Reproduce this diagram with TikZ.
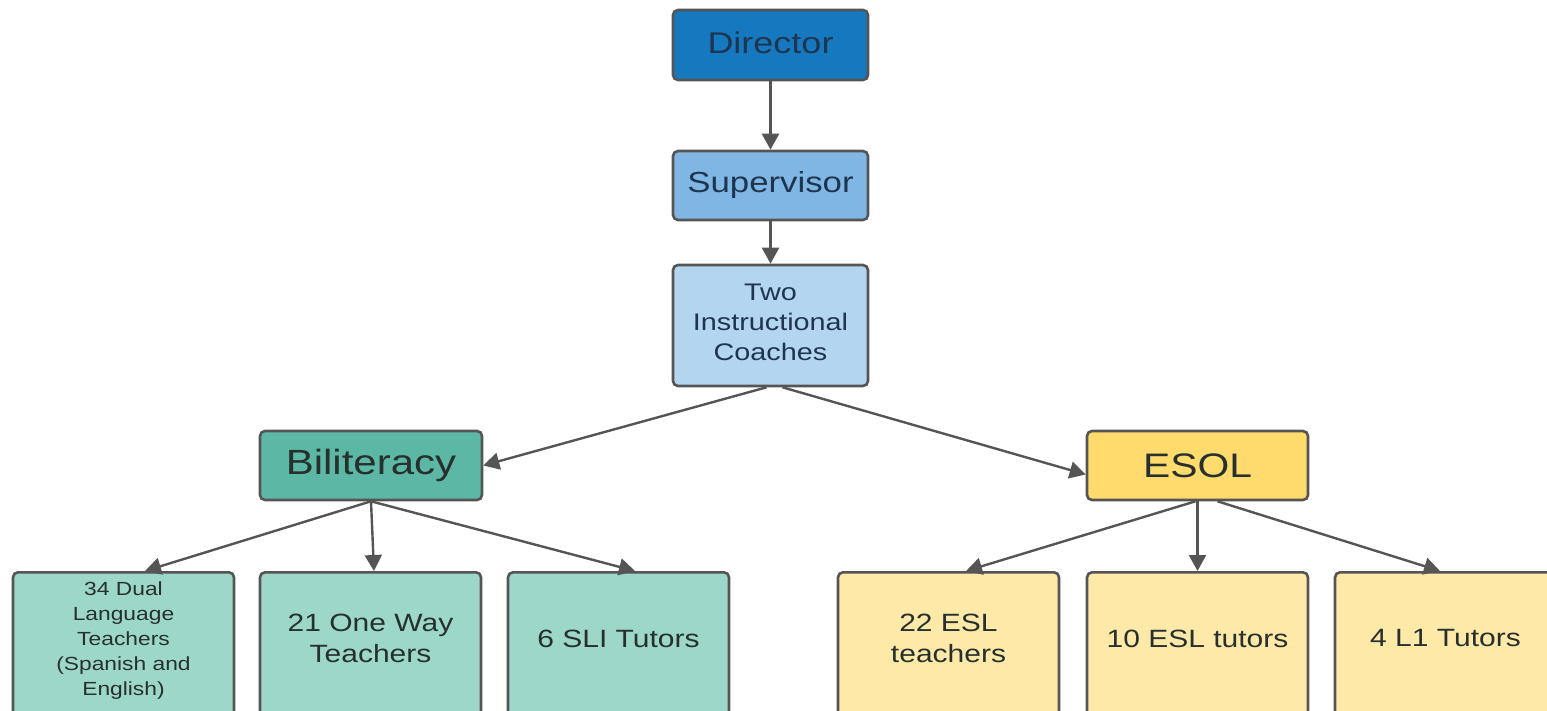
\documentclass[tikz,border=0pt]{standalone}
\usepackage{fontspec}
\setmainfont[FakeStretch=1.2]{Liberation Sans}
\usetikzlibrary{arrows.meta}
\definecolor{dirblue}{HTML}{1679C0}
\definecolor{supblue}{HTML}{7FB6E4}
\definecolor{coachblue}{HTML}{B4D5F0}
\definecolor{teal1}{HTML}{5CB8A4}
\definecolor{teal2}{HTML}{9DD7CA}
\definecolor{yel1}{HTML}{FFDA6C}
\definecolor{yel2}{HTML}{FFE9A8}
\definecolor{edge}{HTML}{555555}
\definecolor{txt}{HTML}{26302E}
\definecolor{navytxt}{HTML}{1E3550}
\tikzset{
  box/.style={draw=edge, line width=2.6pt, rounded corners=5pt, align=center,
    text=txt, inner sep=2pt, minimum width=221pt},
  leaf/.style={box, minimum height=145pt, anchor=north, text depth=13pt},
  conn/.style={draw=edge, line width=2.4pt, -{Triangle[length=16pt,width=17pt]}},
}
\begin{document}
\begin{tikzpicture}[x=1pt,y=-1pt]
\useasboundingbox (0,0) rectangle (1547,711);
\clip (0,0) rectangle (1547,711);
\node[box, fill=dirblue, minimum width=195pt, minimum height=70pt, text=navytxt,
  text depth=5pt, font=\fontsize{30}{35}\selectfont] (dir) at (770.5,45) {Director};
\node[box, fill=supblue, minimum width=195pt, minimum height=69pt, text=navytxt,
  font=\fontsize{29}{34}\selectfont] (sup) at (770.5,185.5) {Supervisor};
\node[box, fill=coachblue, minimum width=195pt, minimum height=121pt, text=navytxt,
  text depth=6pt, font=\fontsize{24}{30}\selectfont] (coach) at (770.5,325.5) {Two\\Instructional\\Coaches};
\node[box, fill=teal1, minimum width=222pt, minimum height=69pt,
  font=\fontsize{35}{40}\selectfont] (bil) at (371,465.5) {Biliteracy};
\node[box, fill=yel1, minimum width=221pt, minimum height=69pt,
  font=\fontsize{34}{40}\selectfont] (esol) at (1197.5,465.5) {ESOL};

\node[leaf, fill=teal2, font=\fontsize{19}{25}\selectfont] (dual) at (123.5,571)
  {34 Dual\\Language\\Teachers\\(Spanish and\\English)};
\node[leaf, fill=teal2, font=\fontsize{25}{31}\selectfont] (oneway) at (370.5,571)
  {21 One Way\\Teachers};
\node[leaf, fill=teal2, font=\fontsize{25}{31}\selectfont] (sli) at (618.5,571)
  {6 SLI Tutors};
\node[leaf, fill=yel2, font=\fontsize{25}{31}\selectfont] (esl) at (948.5,571)
  {22 ESL\\teachers};
\node[leaf, fill=yel2, font=\fontsize{25}{31}\selectfont] (esltut) at (1197.5,571)
  {10 ESL tutors};
\node[leaf, fill=yel2, font=\fontsize{25}{31}\selectfont] (l1) at (1445.5,571)
  {4 L1 Tutors};

\draw[conn] (dir.south) -- (sup.north);
\draw[conn] (sup.south) -- (coach.north);
\draw[conn] ([xshift=-4pt]coach.south) -- (bil.east);
\draw[conn] ([xshift=12pt]coach.south) -- ([yshift=-9pt]esol.west);
\draw[conn] (bil.south) -- ([xshift=21.5pt]dual.north);
\draw[conn] (bil.south) -- ([xshift=3.5pt]oneway.north);
\draw[conn] (bil.south) -- ([xshift=16.5pt]sli.north);
\draw[conn] ([xshift=-2pt]esol.south) -- ([xshift=17.5pt]esl.north);
\draw[conn] (esol.south) -- (esltut.north);
\draw[conn] ([xshift=20pt]esol.south) -- ([xshift=-5.5pt]l1.north);
\end{tikzpicture}
\end{document}
